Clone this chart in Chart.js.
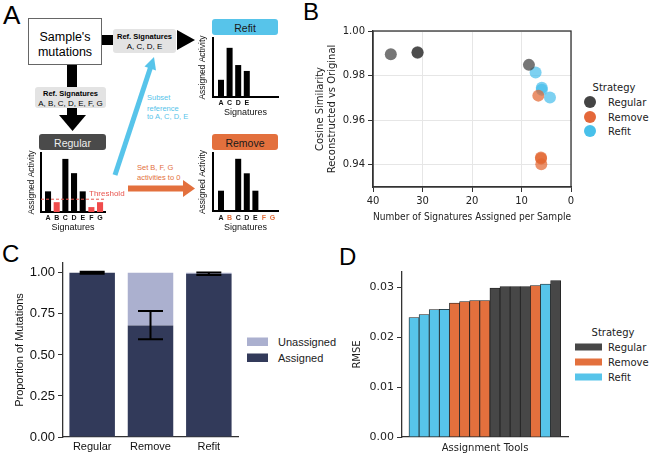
<!DOCTYPE html>
<html>
<head>
<meta charset="utf-8">
<script src="https://cdn.jsdelivr.net/npm/chart.js@4"></script>
<style>
body { margin: 0; background: #fff; }
#wrap { position: relative; width: 650px; height: 455px; overflow: hidden; }
#wrap canvas, #wrap svg { position: absolute; }
</style>
</head>
<body>
<div id="wrap">
<svg width="650" height="455" style="left:0;top:0">
  <g font-family="'Liberation Sans', Arial, sans-serif">
    <text x="3" y="24" font-size="26">A</text>
    <text x="303" y="20" font-size="24">B</text>
    <text x="2" y="262" font-size="24">C</text>
    <text x="339" y="265" font-size="24">D</text>

    <rect x="28.5" y="18.5" width="73" height="46" fill="#fff" stroke="#666"/>
    <text x="65" y="40.5" font-size="12.5" text-anchor="middle">Sample's</text>
    <text x="65" y="55.5" font-size="12.5" text-anchor="middle">mutations</text>
    <rect x="67" y="65" width="10" height="23"/>
    <rect x="102" y="35" width="11" height="10"/>

    <rect x="35" y="87" width="71" height="21" rx="3" fill="#e3e3e3"/>
    <text x="70.5" y="96" font-size="7.5" font-weight="bold" text-anchor="middle">Ref. Signatures</text>
    <text x="70.5" y="105.5" font-size="8" text-anchor="middle">A, B, C, D, E, F, G</text>
    <rect x="67" y="108" width="10" height="8"/>
    <polygon points="59,115 86,115 72.5,131"/>

    <rect x="113" y="29" width="63" height="24" rx="3" fill="#e3e3e3"/>
    <text x="144.5" y="39" font-size="7.5" font-weight="bold" text-anchor="middle">Ref. Signatures</text>
    <text x="144.5" y="49" font-size="8" text-anchor="middle">A, C, D, E</text>
    <polygon points="177,30 177,50 195,40"/>

    <rect x="212" y="19" width="66" height="16" rx="3" fill="#57c4ea"/>
    <text x="245" y="31.5" font-size="10.5" text-anchor="middle" fill="#1a1a1a">Refit</text>
    <rect x="212" y="134" width="66" height="16" rx="3" fill="#e3703d"/>
    <text x="245" y="146.5" font-size="10.5" text-anchor="middle" fill="#1a1a1a">Remove</text>
    <rect x="39" y="134" width="67" height="16" rx="3" fill="#4a4a4a"/>
    <text x="72.5" y="146.5" font-size="10.5" text-anchor="middle" fill="#eee">Regular</text>

    <line x1="115" y1="175" x2="150.5" y2="67.5" stroke="#57c4ea" stroke-width="5"/>
    <polygon points="154,57 156,70.5 144.5,66.5" fill="#57c4ea"/>
    <text x="147" y="100" font-size="7.5" fill="#57c4ea">Subset</text>
    <text x="147" y="110.5" font-size="7.5" fill="#57c4ea">reference</text>
    <text x="147" y="119" font-size="7.5" fill="#57c4ea">to A, C, D, E</text>

    <line x1="128" y1="188.5" x2="184" y2="188.5" stroke="#e3703d" stroke-width="6"/>
    <polygon points="183,180 183,197 195,188.5" fill="#e3703d"/>
    <text x="137" y="170" font-size="7.5" fill="#e3703d">Set B, F, G</text>
    <text x="137" y="180" font-size="7.5" fill="#e3703d">activities to 0</text>

    <rect x="247" y="337.5" width="21" height="8.5" fill="#abb0cf"/>
    <text x="278" y="345.5" font-size="11" fill="#222">Unassigned</text>
    <rect x="247" y="353.5" width="21" height="8.5" fill="#323a5a"/>
    <text x="278" y="361.5" font-size="11" fill="#222">Assigned</text>
  </g>
  <g font-family="'DejaVu Sans', sans-serif" font-size="10" fill="#222">
    <text x="614" y="90.5" text-anchor="middle">Strategy</text>
    <circle cx="590" cy="102" r="6" fill="#444"/>
    <circle cx="590" cy="117" r="6" fill="#e4683a"/>
    <circle cx="590" cy="131" r="6" fill="#48c0ea"/>
    <text x="608" y="105.5">Regular</text>
    <text x="608" y="120.5">Remove</text>
    <text x="608" y="134.5">Refit</text>

    <text x="613" y="335.5" text-anchor="middle">Strategy</text>
    <rect x="575" y="343.5" width="27" height="7" fill="#474747"/>
    <rect x="575" y="358.5" width="27" height="7" fill="#e3703d"/>
    <rect x="575" y="373.5" width="27" height="7" fill="#57c4ea"/>
    <text x="608" y="350.5">Regular</text>
    <text x="608" y="365.5">Remove</text>
    <text x="608" y="380.5">Refit</text>
  </g>
</svg>
<canvas id="sigRegular" width="115" height="86" style="left:15px;top:148px"></canvas>
<canvas id="sigRemove" width="95" height="86" style="left:190px;top:148px"></canvas>
<canvas id="sigRefit" width="95" height="86" style="left:190px;top:33px"></canvas>
<canvas id="chartB" width="360" height="230" style="left:290px;top:0px"></canvas>
<canvas id="chartC" width="250" height="220" style="left:0px;top:235px"></canvas>
<canvas id="chartD" width="325" height="220" style="left:325px;top:235px"></canvas>
</div>
<script>
const arial = "'Liberation Sans', Arial, sans-serif";
const dejavu = "'DejaVu Sans', sans-serif";

// panel A schematic
const sigLabels = ['A', 'B', 'C', 'D', 'E', 'F', 'G'];
const regularActivity = [2.1, 1.0, 5.4, 3.95, 2.1, 0.5, 1.0];
const belowThreshold = [false, true, false, false, false, true, true];
const thresholdValue = 1.3;
const removeActivity = [2.1, 0, 5.4, 3.9, 2.1, 0, 0];
const refitLabels = ['A', 'C', 'D', 'E'];
const refitActivity = [1.75, 5.0, 3.25, 2.65];

// panel B
const regularSigs = [36.4, 31.0, 31.0, 8.5];
const regularCos = [0.9896, 0.9905, 0.9902, 0.9848];
const removeSigs = [6.6, 6.07, 6.05, 6.0];
const removeCos = [0.9710, 0.9432, 0.9428, 0.9402];
const refitSigs = [7.15, 5.9, 5.9, 4.25];
const refitCos = [0.9814, 0.9745, 0.9736, 0.9702];
const cosTicks = [0.94, 0.96, 0.98, 1.00];

// panel C
const strategies = ['Regular', 'Remove', 'Refit'];
const assigned = [1.0, 0.679, 0.994];
const unassigned = [0.0, 0.321, 0.006];
const errLow = [0.995, 0.596, 0.987];
const errHigh = [1.006, 0.768, 1.002];
const propTicks = [0, 0.25, 0.5, 0.75, 1.0];

// panel D
const rmse = [0.0239, 0.0245, 0.0255, 0.02555, 0.0268, 0.0271, 0.0273, 0.0273,
  0.0298, 0.0301, 0.0301, 0.0301, 0.0303, 0.0306, 0.0313];
const toolStrategy = ['Refit', 'Refit', 'Refit', 'Refit', 'Remove', 'Remove', 'Remove', 'Remove',
  'Regular', 'Regular', 'Regular', 'Regular', 'Remove', 'Refit', 'Regular'];
const rmseTicks = [0, 0.01, 0.02, 0.03];

const stratColor = { Regular: '#474747', Remove: '#e3703d', Refit: '#57c4ea' };

function sigChart(id, labels, values, barColors, labelColors, xMin, xMax, o) {
  return new Chart(document.getElementById(id), {
    type: 'bar',
    data: {
      datasets: [{
        data: values.map((v, i) => ({ x: i, y: v })),
        backgroundColor: barColors,
        barPercentage: 0.7,
        categoryPercentage: 1
      }]
    },
    options: {
      responsive: false, animation: false, events: [],
      layout: { padding: { left: 0, top: 5, right: o.right, bottom: 0 } },
      plugins: { legend: { display: false }, tooltip: { enabled: false } },
      scales: {
        x: {
          type: 'linear', min: xMin, max: xMax, offset: false,
          afterBuildTicks: s => { s.ticks = labels.map((l, i) => ({ value: i })); },
          ticks: {
            autoSkip: false, maxRotation: 0, padding: o.tickPad,
            callback: v => labels[v],
            color: c => labelColors[c.index],
            font: { family: arial, size: 7, weight: 'bold' }
          },
          grid: { display: false, drawTicks: false, offset: false },
          border: { color: '#000', width: 2 },
          title: { display: true, text: 'Signatures', color: '#111', font: { family: arial, size: 9 }, padding: { top: 0, bottom: 1 } },
          afterFit: s => { s.height = o.xh; }
        },
        y: {
          min: 0, max: 6,
          ticks: { display: false },
          grid: { display: false, drawTicks: false },
          border: { color: '#000', width: 2 },
          title: { display: true, text: 'Assigned Activity', color: '#111', font: { family: arial, size: 8.5 }, padding: { top: o.yTitlePad, bottom: 0 } },
          afterFit: s => { s.width = o.yw; }
        }
      }
    },
    plugins: o.plugins || []
  });
}

const thresholdLine = {
  id: 'thresholdLine',
  afterDatasetsDraw(chart) {
    const { ctx, chartArea, scales } = chart;
    const y = scales.y.getPixelForValue(thresholdValue);
    ctx.save();
    ctx.strokeStyle = '#e8554f';
    ctx.lineWidth = 1;
    ctx.setLineDash([3, 2]);
    ctx.beginPath();
    ctx.moveTo(chartArea.left, y);
    ctx.lineTo(chartArea.right, y);
    ctx.stroke();
    ctx.setLineDash([]);
    ctx.fillStyle = '#e8554f';
    ctx.font = '8px ' + arial;
    ctx.textBaseline = 'alphabetic';
    ctx.fillText('Threshold', 74, y - 3);
    ctx.restore();
  }
};

sigChart('sigRegular', sigLabels, regularActivity,
  belowThreshold.map(b => b ? '#f04c4c' : '#000'),
  sigLabels.map(() => '#111'), -0.81, 6.57,
  { right: 25, xh: 22, yw: 26, tickPad: 2, yTitlePad: 12, plugins: [thresholdLine] });

sigChart('sigRemove', sigLabels, removeActivity, '#000',
  sigLabels.map((l, i) => belowThreshold[i] ? '#e3703d' : '#111'), -0.93, 6.63,
  { right: 7, xh: 23, yw: 23, tickPad: 2.5, yTitlePad: 8 });

sigChart('sigRefit', refitLabels, refitActivity, '#000',
  refitLabels.map(() => '#111'), -0.93, 6.63,
  { right: 7, xh: 22, yw: 23, tickPad: 2, yTitlePad: 8 });

// panel B
const frame = {
  id: 'frame',
  afterDraw(chart) {
    const { ctx, chartArea: a } = chart;
    ctx.save();
    ctx.strokeStyle = '#333';
    ctx.lineWidth = 1.3;
    ctx.strokeRect(a.left, a.top, a.right - a.left, a.bottom - a.top);
    ctx.restore();
  }
};

function pts(xs, ys) { return xs.map((x, i) => ({ x: x, y: ys[i] })); }

new Chart(document.getElementById('chartB'), {
  type: 'scatter',
  data: {
    datasets: [
      { label: 'Regular', data: pts(regularSigs, regularCos), backgroundColor: 'rgba(60,60,60,0.7)' },
      { label: 'Remove', data: pts(removeSigs, removeCos), backgroundColor: 'rgba(227,100,45,0.7)' },
      { label: 'Refit', data: pts(refitSigs, refitCos), backgroundColor: 'rgba(70,190,235,0.7)' }
    ]
  },
  options: {
    responsive: false, animation: false, events: [],
    elements: { point: { radius: 6, borderWidth: 0 } },
    layout: { padding: { left: 0, top: 31, right: 79, bottom: 0 } },
    plugins: { legend: { display: false }, tooltip: { enabled: false } },
    scales: {
      x: {
        type: 'linear', reverse: true, min: 0, max: 40,
        ticks: { stepSize: 10, padding: 3, color: '#222', font: { family: dejavu, size: 10 } },
        grid: { color: '#e6e6e6', tickColor: '#333', tickLength: 5 },
        border: { color: '#333', width: 1.3 },
        title: { display: true, text: 'Number of Signatures Assigned per Sample', color: '#222',
          font: { family: dejavu, size: 10 }, padding: { top: 0, bottom: 7 } },
        afterFit: s => { s.height = 43; }
      },
      y: {
        min: 0.93, max: 1.0,
        afterBuildTicks: s => { s.ticks = cosTicks.map(v => ({ value: v })); },
        ticks: { padding: 3, color: '#222', font: { family: dejavu, size: 10 }, callback: v => v.toFixed(2) },
        grid: { color: '#e6e6e6', tickColor: '#333', tickLength: 5 },
        border: { color: '#333', width: 1.3 },
        title: { display: true, text: ['Cosine Similarity', 'Reconstructed vs Original'], color: '#222',
          font: { family: dejavu, size: 10 }, padding: { top: 24, bottom: 0 } },
        afterFit: s => { s.width = 83; }
      }
    }
  },
  plugins: [frame]
});

// panel C
const errorBars = {
  id: 'errorBars',
  afterDatasetsDraw(chart) {
    const { ctx, scales } = chart;
    ctx.save();
    ctx.strokeStyle = '#000';
    ctx.lineWidth = 2;
    strategies.forEach((s, i) => {
      const x = scales.x.getPixelForValue(i);
      const lo = scales.y.getPixelForValue(errLow[i]);
      const hi = scales.y.getPixelForValue(errHigh[i]);
      ctx.beginPath();
      ctx.moveTo(x, lo); ctx.lineTo(x, hi);
      ctx.moveTo(x - 12.5, lo); ctx.lineTo(x + 12.5, lo);
      ctx.moveTo(x - 12.5, hi); ctx.lineTo(x + 12.5, hi);
      ctx.stroke();
    });
    ctx.restore();
  }
};

new Chart(document.getElementById('chartC'), {
  type: 'bar',
  data: {
    labels: strategies,
    datasets: [
      { label: 'Assigned', data: assigned, backgroundColor: '#323a5a' },
      { label: 'Unassigned', data: unassigned, backgroundColor: '#abb0cf' }
    ]
  },
  options: {
    responsive: false, animation: false, events: [],
    barPercentage: 0.78, categoryPercentage: 1,
    layout: { padding: { left: 0, top: 28, right: 12, bottom: 0 } },
    plugins: { legend: { display: false }, tooltip: { enabled: false } },
    scales: {
      x: {
        stacked: true,
        ticks: { padding: 3, color: '#111', font: { family: arial, size: 11 } },
        grid: { display: false, drawTicks: false },
        border: { color: '#333', width: 1.3 },
        afterFit: s => { s.height = 18; }
      },
      y: {
        stacked: true, min: 0, max: 1.06,
        afterBuildTicks: s => { s.ticks = propTicks.map(v => ({ value: v })); },
        ticks: { padding: 3, color: '#111', font: { family: arial, size: 13 }, callback: v => v.toFixed(2) },
        grid: { display: true, drawOnChartArea: false, tickColor: '#333', tickLength: 5 },
        border: { color: '#333', width: 1.3 },
        title: { display: true, text: 'Proportion of Mutations', color: '#111',
          font: { family: arial, size: 11 }, padding: { top: 13, bottom: 0 } },
        afterFit: s => { s.width = 63; }
      }
    }
  },
  plugins: [errorBars]
});

// panel D
new Chart(document.getElementById('chartD'), {
  type: 'bar',
  data: {
    datasets: [{
      data: rmse.map((v, i) => ({ x: i, y: v })),
      backgroundColor: toolStrategy.map(s => stratColor[s]),
      borderColor: '#1e1e1e',
      borderWidth: 0.8,
      barPercentage: 1,
      categoryPercentage: 1
    }]
  },
  options: {
    responsive: false, animation: false, events: [],
    layout: { padding: { left: 0, top: 37, right: 82, bottom: 0 } },
    plugins: { legend: { display: false }, tooltip: { enabled: false } },
    scales: {
      x: {
        type: 'linear', min: -1.19, max: 15.22, offset: false,
        afterBuildTicks: s => { s.ticks = rmse.map((v, i) => ({ value: i })); },
        ticks: { display: false },
        grid: { display: false, drawTicks: false, offset: false },
        border: { color: '#333', width: 1.3 },
        title: { display: true, text: 'Assignment Tools', color: '#222',
          font: { family: dejavu, size: 10 }, padding: { top: 0, bottom: 1 } },
        afterFit: s => { s.height = 18; }
      },
      y: {
        min: 0, max: 0.033,
        afterBuildTicks: s => { s.ticks = rmseTicks.map(v => ({ value: v })); },
        ticks: { padding: 3, color: '#222', font: { family: dejavu, size: 11 }, callback: v => v.toFixed(2) },
        grid: { display: true, drawOnChartArea: false, tickColor: '#333', tickLength: 5 },
        border: { color: '#333', width: 1.3 },
        title: { display: true, text: 'RMSE', color: '#222',
          font: { family: dejavu, size: 10 }, padding: { top: 26, bottom: 0 } },
        afterFit: s => { s.width = 77; }
      }
    }
  }
});
</script>
</body>
</html>
